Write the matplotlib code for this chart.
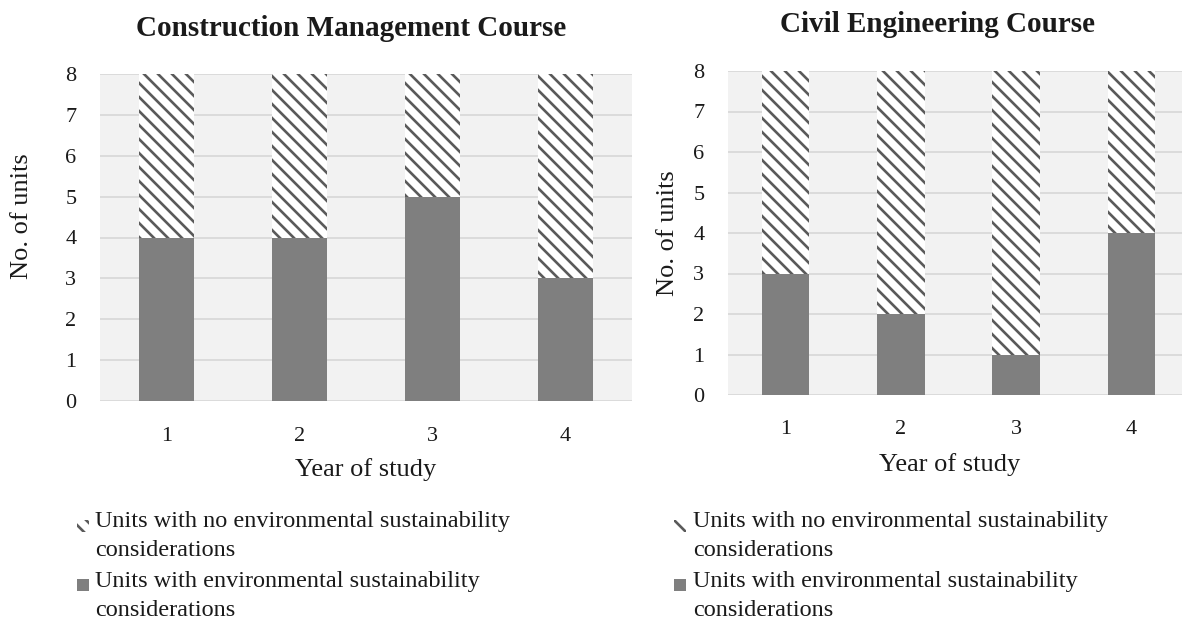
import matplotlib
matplotlib.use("Agg")
import matplotlib.pyplot as plt
from matplotlib.patches import Rectangle

years = ["1", "2", "3", "4"]
cm_with = [4, 4, 5, 3]
cm_without = [4, 4, 3, 5]
ce_with = [3, 2, 1, 4]
ce_without = [5, 6, 7, 4]
titles = ["Construction Management Course", "Civil Engineering Course"]
label_without = ["Units with no environmental sustainability", "considerations"]
label_with = ["Units with environmental sustainability", "considerations"]

plt.rcParams['font.family'] = ['Liberation Serif', 'DejaVu Serif']

W, H = 1182, 627
DPI = 84
S = 100 / DPI  # scale so sizes below are "points at 100 dpi"
plt.rcParams['hatch.linewidth'] = 1.9 * S

fig = plt.figure(figsize=(W / DPI, H / DPI), dpi=DPI)

def frac(x0, y0, x1, y1):
    return [x0 / W, 1 - y1 / H, (x1 - x0) / W, (y1 - y0) / H]

def fx(px):
    return px / W

def fy(py):
    return 1 - py / H

FILL = '#7F7F7F'
HATCH_C = '#5A5A5A'
TXT = '#1A1A1A'

panels = [
    dict(rect=frac(100, 74, 632, 401), w=cm_with, wo=cm_without, title=titles[0],
         tx=351, ty=28, ylx=22, yly=216, xlx=366, xly=470,
         mk=77, tx0=95, tick_pad_y=17, tick_pad_x=19),
    dict(rect=frac(728, 71, 1189, 395), w=ce_with, wo=ce_without, title=titles[1],
         tx=938, ty=24, ylx=668, yly=233, xlx=950, xly=465,
         mk=674, tx0=693, tick_pad_y=17, tick_pad_x=18),
]

for p in panels:
    ax = fig.add_axes(p['rect'])
    ax.set_facecolor('#F2F2F2')
    x = range(len(years))
    ax.bar(x, p['w'], width=0.41, color=FILL, edgecolor=FILL, linewidth=0, zorder=3)
    ax.bar(x, p['wo'], bottom=p['w'], width=0.41, color='white', edgecolor=HATCH_C,
           hatch='\\\\', linewidth=0, zorder=3)
    ax.set_xlim(-0.5, len(years) - 0.5)
    ax.set_ylim(0, 8)
    ax.set_yticks(range(0, 9))
    ax.set_xticks(list(x))
    ax.set_xticklabels(years)
    ax.tick_params(axis='both', length=0, labelsize=16 * S, colors=TXT)
    ax.tick_params(axis='y', pad=p['tick_pad_y'] * S)
    ax.tick_params(axis='x', pad=p['tick_pad_x'] * S)
    ax.grid(axis='y', color='#D9D9D9', linewidth=1.3 * S, zorder=0)
    ax.set_axisbelow(True)
    for s in ax.spines.values():
        s.set_visible(False)

    fig.text(fx(p['tx']), fy(p['ty']), p['title'], ha='center', va='center',
             fontsize=21 * S, fontweight='bold', color=TXT)
    fig.text(fx(p['ylx']), fy(p['yly']), "No. of units", ha='center', va='center',
             rotation=90, fontsize=19 * S, color=TXT)
    fig.text(fx(p['xlx']), fy(p['xly']), "Year of study", ha='center', va='center',
             fontsize=19 * S, color=TXT)

    # legend
    for lines, base in ((label_without, 527), (label_with, 587)):
        for i, line in enumerate(lines):
            fig.text(fx(p['tx0']), fy(base + 29 * i), line, ha='left', va='baseline',
                     fontsize=17.5 * S, color=TXT)
    fig.add_artist(Rectangle((fx(p['mk']), fy(532)), 12 / W, 12 / H,
                             transform=fig.transFigure, facecolor='white',
                             edgecolor=HATCH_C, hatch='\\\\', linewidth=0))
    fig.add_artist(Rectangle((fx(p['mk']), fy(591)), 12 / W, 12 / H,
                             transform=fig.transFigure, facecolor=FILL,
                             edgecolor=FILL, linewidth=0))

fig.savefig("out.png", dpi=DPI, facecolor='white')
